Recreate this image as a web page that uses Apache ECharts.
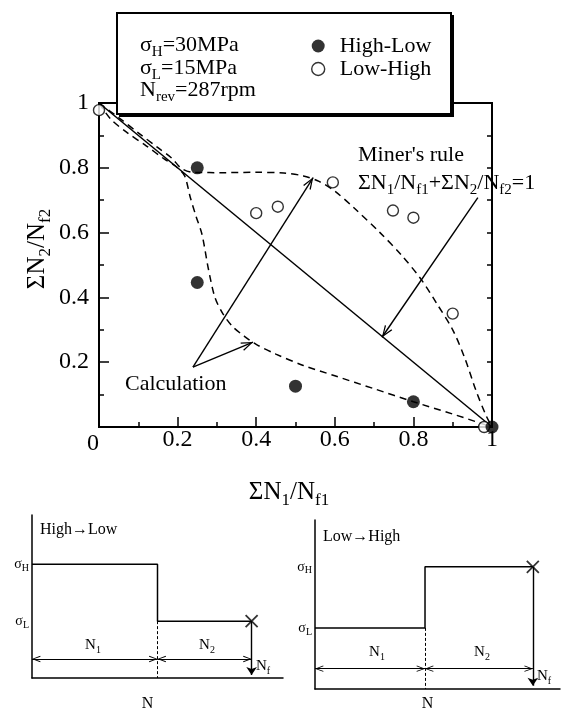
<!DOCTYPE html>
<html>
<head>
<meta charset="utf-8">
<script src="https://cdn.jsdelivr.net/npm/echarts@6/dist/echarts.min.js"></script>
<style>
  html, body { margin: 0; padding: 0; background: #fff; }
  #chart { width: 561px; height: 718px; }
</style>
</head>
<body>
<div id="chart"></div>
<script>
const FONT = '"Liberation Serif", "Times New Roman", serif';

// Cumulative damage fractions from two-step block loading tests
const highLowN1 = [0.25, 0.25, 0.50, 0.80, 1.00];
const highLowN2 = [0.80, 0.446, 0.126, 0.078, 0.0];
const lowHighN1 = [0.00, 0.40, 0.455, 0.595, 0.748, 0.80, 0.90, 0.98];
const lowHighN2 = [0.978, 0.66, 0.68, 0.755, 0.668, 0.646, 0.35, 0.0];

// Miner's linear damage rule: N1/Nf1 + N2/Nf2 = 1
const minerN1 = [0, 1];
const minerN2 = [1, 0];

// Calculated damage curves
const calcLowHighN1 = [0, 0.05, 0.10, 0.15, 0.185, 0.21, 0.24, 0.32, 0.40, 0.47, 0.52, 0.56, 0.60, 0.65, 0.715, 0.77, 0.82, 0.86, 0.90, 0.93, 0.96, 0.985, 1];
const calcLowHighN2 = [1, 0.955, 0.908, 0.862, 0.83, 0.798, 0.786, 0.785, 0.786, 0.784, 0.775, 0.758, 0.728, 0.675, 0.60, 0.53, 0.455, 0.38, 0.30, 0.215, 0.11, 0.035, 0];
const calcHighLowN1 = [0, 0.03, 0.07, 0.12, 0.165, 0.20, 0.218, 0.232, 0.247, 0.262, 0.278, 0.295, 0.315, 0.34, 0.37, 0.40, 0.45, 0.52, 0.60, 0.70, 0.80, 0.90, 1];
const calcHighLowN2 = [1, 0.95, 0.91, 0.868, 0.828, 0.80, 0.775, 0.71, 0.65, 0.595, 0.49, 0.40, 0.35, 0.31, 0.28, 0.255, 0.225, 0.19, 0.158, 0.118, 0.078, 0.04, 0];

// Annotation arrows (tail, head) in damage-fraction units
const minerArrow = [[0.964, 0.708], [0.72, 0.277]];
const calcArrowTail = [0.239, 0.185];
const calcArrowHeads = [[0.545, 0.77], [0.392, 0.262]];

// Loading schematics: stress amplitude (MPa) against cycles (in units of N1)
const sigmaH = 30;
const sigmaL = 15;
const hlCycles = [0, 1, 1, 1.75];
const hlStress = [sigmaH, sigmaH, sigmaL, sigmaL];
const hlFailure = 1.75;
const lhCycles = [0, 1, 1, 1.98];
const lhStress = [sigmaL, sigmaL, sigmaH, sigmaH];
const lhFailure = 1.98;
const dimLevel = 5;

const zip = (a, b) => a.map((v, i) => [v, b[i]]);

const BLACK = '#000';
// open arrowhead in a square box, tip at the centre
const chevron = 'path://M0,0M24,0M12,12L16.5,24L15.2,24.4L12,15.2L8.8,24.4L7.5,24Z';
const crossMark = 'path://M0,0L10,10M10,0L0,10';

const subRich = (sub) => ({
  s: { fontSize: sub, fontFamily: FONT, lineHeight: sub, verticalAlign: 'bottom', color: BLACK }
});

const chart = echarts.init(document.getElementById('chart'), null, { renderer: 'canvas' });

const tickFont = { color: BLACK, fontFamily: FONT, fontSize: 24 };

const option = {
  animation: false,
  backgroundColor: '#fff',
  textStyle: { fontFamily: FONT, color: BLACK },
  legend: {
    z: 100,
    orient: 'vertical',
    left: 306,
    top: 30,
    itemWidth: 13,
    itemHeight: 13,
    itemGap: 1,
    data: [
      { name: 'High-Low', icon: 'circle', itemStyle: { color: BLACK } },
      { name: 'Low-High', icon: 'circle', itemStyle: { color: '#fff', borderColor: BLACK, borderWidth: 1.4 } }
    ],
    textStyle: { fontFamily: FONT, fontSize: 22, color: BLACK, lineHeight: 22, padding: [0, 0, 0, 10] },
    selectedMode: false
  },
  grid: [
    { left: 99, top: 103, width: 393, height: 324, show: true, borderColor: BLACK, borderWidth: 2, backgroundColor: 'transparent' },
    { left: 32, top: 515, width: 251, height: 163 },
    { left: 315, top: 520, width: 245, height: 169 }
  ],
  xAxis: [
    {
      gridIndex: 0, type: 'value', min: 0, max: 1, interval: 0.2,
      axisLine: { show: true, lineStyle: { color: BLACK, width: 2 } },
      axisTick: { inside: true, length: 10, lineStyle: { color: BLACK, width: 1.5 } },
      minorTick: { show: true, splitNumber: 2, length: 5, lineStyle: { color: BLACK, width: 1.5 } },
      splitLine: { show: false },
      axisLabel: Object.assign({}, tickFont, {
        margin: 1,
        formatter: v => (v === 0 ? '{z|0}' : String(v)),
        rich: { z: { fontSize: 24, fontFamily: FONT, color: BLACK, padding: [4, 12, 0, 0] } }
      })
    },
    {
      gridIndex: 1, type: 'value', min: 0, max: 2.0,
      axisLine: { show: true, onZero: false, lineStyle: { color: BLACK, width: 1.5 } },
      axisTick: { show: false }, axisLabel: { show: false }, splitLine: { show: false },
      name: 'N', nameLocation: 'middle', nameGap: 18,
      nameTextStyle: { fontFamily: FONT, fontSize: 16, color: BLACK, padding: [0, 20, 0, 0] }
    },
    {
      gridIndex: 2, type: 'value', min: 0, max: 2.227,
      axisLine: { show: true, onZero: false, lineStyle: { color: BLACK, width: 1.5 } },
      axisTick: { show: false }, axisLabel: { show: false }, splitLine: { show: false },
      name: 'N', nameLocation: 'middle', nameGap: 7,
      nameTextStyle: { fontFamily: FONT, fontSize: 16, color: BLACK, padding: [0, 20, 0, 0] }
    }
  ],
  yAxis: [
    {
      gridIndex: 0, type: 'value', min: 0, max: 1, interval: 0.2,
      axisLine: { show: true, lineStyle: { color: BLACK, width: 2 } },
      axisTick: { inside: true, length: 10, lineStyle: { color: BLACK, width: 1.5 } },
      minorTick: { show: true, splitNumber: 2, length: 5, lineStyle: { color: BLACK, width: 1.5 } },
      splitLine: { show: false },
      axisLabel: Object.assign({}, tickFont, { margin: 10, showMinLabel: false })
    },
    {
      gridIndex: 0, type: 'value', min: 0, max: 1, interval: 0.1, position: 'right',
      axisLine: { show: true, lineStyle: { color: BLACK, width: 2 } },
      axisTick: { inside: true, length: 5, lineStyle: { color: BLACK, width: 1.5 } },
      axisLabel: { show: false }, splitLine: { show: false }
    },
    {
      gridIndex: 1, type: 'value', min: 0, max: 43,
      axisLine: { show: true, onZero: false, lineStyle: { color: BLACK, width: 1.5 } },
      axisTick: { show: false }, splitLine: { show: false },
      axisLabel: {
        customValues: [sigmaL, sigmaH], margin: 3,
        formatter: v => (v === sigmaH ? 'σ{s|H}' : 'σ{s|L}'),
        fontFamily: FONT, fontSize: 14, color: BLACK, lineHeight: 18,
        rich: subRich(10)
      }
    },
    {
      gridIndex: 2, type: 'value', min: 0, max: 41.5,
      axisLine: { show: true, onZero: false, lineStyle: { color: BLACK, width: 1.5 } },
      axisTick: { show: false }, splitLine: { show: false },
      axisLabel: {
        customValues: [sigmaL, sigmaH], margin: 3,
        formatter: v => (v === sigmaH ? 'σ{s|H}' : 'σ{s|L}'),
        fontFamily: FONT, fontSize: 14, color: BLACK, lineHeight: 18,
        rich: subRich(10)
      }
    }
  ],
  series: [
    {
      name: "Miner's rule", type: 'line', xAxisIndex: 0, yAxisIndex: 0,
      data: zip(minerN1, minerN2), symbol: 'none',
      lineStyle: { color: BLACK, width: 1.5 }, z: 2
    },
    {
      name: 'Calculation (Low-High)', type: 'line', xAxisIndex: 0, yAxisIndex: 0,
      data: zip(calcLowHighN1, calcLowHighN2), symbol: 'none', smooth: 0.3,
      lineStyle: { color: BLACK, width: 1.5, type: [7, 5] }, z: 2
    },
    {
      name: 'Calculation (High-Low)', type: 'line', xAxisIndex: 0, yAxisIndex: 0,
      data: zip(calcHighLowN1, calcHighLowN2), symbol: 'none', smooth: 0.3,
      lineStyle: { color: BLACK, width: 1.5, type: [7, 5] }, z: 2
    },
    {
      name: 'Annotation arrows', type: 'lines', coordinateSystem: 'cartesian2d',
      xAxisIndex: 0, yAxisIndex: 0, silent: true,
      symbol: ['none', chevron], symbolSize: 24,
      lineStyle: { color: BLACK, width: 1.4, opacity: 1, curveness: 0 },
      data: [
        { coords: minerArrow },
        { coords: [calcArrowTail, calcArrowHeads[0]] },
        { coords: [calcArrowTail, calcArrowHeads[1]] }
      ], z: 3
    },
    {
      name: 'High-Low', type: 'scatter', xAxisIndex: 0, yAxisIndex: 0,
      data: zip(highLowN1, highLowN2), symbol: 'circle', symbolSize: 13, clip: false,
      itemStyle: { color: BLACK }, z: 6
    },
    {
      name: 'Low-High', type: 'scatter', xAxisIndex: 0, yAxisIndex: 0,
      data: zip(lowHighN1, lowHighN2), symbol: 'circle', symbolSize: 11, clip: false,
      itemStyle: { color: '#fff', borderColor: BLACK, borderWidth: 1.4 }, z: 5
    },

    // High -> Low schematic
    {
      type: 'line', xAxisIndex: 1, yAxisIndex: 2, data: zip(hlCycles, hlStress),
      symbol: 'none', lineStyle: { color: BLACK, width: 1.5 }, silent: true
    },
    {
      type: 'lines', coordinateSystem: 'cartesian2d', xAxisIndex: 1, yAxisIndex: 2, silent: true,
      symbol: 'none', lineStyle: { color: BLACK, width: 1, type: [3, 2], opacity: 1 },
      data: [{ coords: [[hlCycles[1], sigmaL], [hlCycles[1], 0]] }]
    },
    {
      type: 'lines', coordinateSystem: 'cartesian2d', xAxisIndex: 1, yAxisIndex: 2, silent: true,
      symbol: [chevron, chevron], symbolSize: 17,
      lineStyle: { color: BLACK, width: 1.2, opacity: 1 },
      data: [
        { coords: [[0, dimLevel], [hlCycles[1], dimLevel]] },
        { coords: [[hlCycles[1], dimLevel], [hlFailure, dimLevel]] }
      ]
    },
    {
      type: 'lines', coordinateSystem: 'cartesian2d', xAxisIndex: 1, yAxisIndex: 2, silent: true,
      symbol: ['none', 'arrow'], symbolSize: 8,
      lineStyle: { color: BLACK, width: 1.4, opacity: 1 },
      data: [{ coords: [[hlFailure, sigmaL], [hlFailure, 0.8]] }]
    },
    {
      type: 'scatter', xAxisIndex: 1, yAxisIndex: 2, data: [[hlFailure, sigmaL]], silent: true,
      symbol: crossMark, symbolSize: 12, clip: false,
      itemStyle: { color: 'none', borderColor: BLACK, borderWidth: 1.8 }
    },

    // Low -> High schematic
    {
      type: 'line', xAxisIndex: 2, yAxisIndex: 3, data: zip(lhCycles, lhStress),
      symbol: 'none', lineStyle: { color: BLACK, width: 1.5 }, silent: true
    },
    {
      type: 'lines', coordinateSystem: 'cartesian2d', xAxisIndex: 2, yAxisIndex: 3, silent: true,
      symbol: 'none', lineStyle: { color: BLACK, width: 1, type: [3, 2], opacity: 1 },
      data: [{ coords: [[lhCycles[1], sigmaL], [lhCycles[1], 0]] }]
    },
    {
      type: 'lines', coordinateSystem: 'cartesian2d', xAxisIndex: 2, yAxisIndex: 3, silent: true,
      symbol: [chevron, chevron], symbolSize: 17,
      lineStyle: { color: BLACK, width: 1.2, opacity: 1 },
      data: [
        { coords: [[0, dimLevel], [lhCycles[1], dimLevel]] },
        { coords: [[lhCycles[1], dimLevel], [lhFailure, dimLevel]] }
      ]
    },
    {
      type: 'lines', coordinateSystem: 'cartesian2d', xAxisIndex: 2, yAxisIndex: 3, silent: true,
      symbol: ['none', 'arrow'], symbolSize: 8,
      lineStyle: { color: BLACK, width: 1.4, opacity: 1 },
      data: [{ coords: [[lhFailure, sigmaH], [lhFailure, 0.8]] }]
    },
    {
      type: 'scatter', xAxisIndex: 2, yAxisIndex: 3, data: [[lhFailure, sigmaH]], silent: true,
      symbol: crossMark, symbolSize: 12, clip: false,
      itemStyle: { color: 'none', borderColor: BLACK, borderWidth: 1.8 }
    }
  ],
  graphic: [
    // parameter box with drop shadow
    { type: 'rect', z: 50, shape: { x: 117, y: 13, width: 334, height: 101 },
      style: { fill: '#fff', stroke: BLACK, lineWidth: 2 } },
    { type: 'line', z: 51, shape: { x1: 119, y1: 115, x2: 453, y2: 115 }, style: { stroke: BLACK, lineWidth: 4 } },
    { type: 'line', z: 51, shape: { x1: 452, y1: 15, x2: 452, y2: 117 }, style: { stroke: BLACK, lineWidth: 4 } },
    { type: 'text', z: 60, x: 140, y: 45,
      style: { text: 'σ{s|H}=30MPa', fontFamily: FONT, fontSize: 22, lineHeight: 30, fill: BLACK, verticalAlign: 'middle', rich: subRich(15) } },
    { type: 'text', z: 60, x: 140, y: 68,
      style: { text: 'σ{s|L}=15MPa', fontFamily: FONT, fontSize: 22, lineHeight: 30, fill: BLACK, verticalAlign: 'middle', rich: subRich(15) } },
    { type: 'text', z: 60, x: 140, y: 90,
      style: { text: 'N{s|rev}=287rpm', fontFamily: FONT, fontSize: 22, lineHeight: 30, fill: BLACK, verticalAlign: 'middle', rich: subRich(15) } },

    // axis titles
    { type: 'text', z: 60, x: 37, y: 249, rotation: Math.PI / 2,
      style: { text: 'ΣN{s|2}/N{s|f2}', fontFamily: FONT, fontSize: 25, lineHeight: 34, fill: BLACK, align: 'center', verticalAlign: 'middle', rich: subRich(17) } },
    { type: 'text', z: 60, x: 289, y: 492,
      style: { text: 'ΣN{s|1}/N{s|f1}', fontFamily: FONT, fontSize: 25, lineHeight: 34, fill: BLACK, align: 'center', verticalAlign: 'middle', rich: subRich(17) } },

    // annotations
    { type: 'text', z: 60, x: 358, y: 155,
      style: { text: "Miner's rule", fontFamily: FONT, fontSize: 22, fill: BLACK, verticalAlign: 'middle' } },
    { type: 'text', z: 60, x: 358, y: 183,
      style: { text: 'ΣN{s|1}/N{s|f1}+ΣN{s|2}/N{s|f2}=1', fontFamily: FONT, fontSize: 22, lineHeight: 30, fill: BLACK, verticalAlign: 'middle', rich: subRich(15) } },
    { type: 'text', z: 60, x: 125, y: 384,
      style: { text: 'Calculation', fontFamily: FONT, fontSize: 22, fill: BLACK, verticalAlign: 'middle' } },

    // schematic labels
    { type: 'text', z: 60, x: 40, y: 530,
      style: { text: 'High→Low', fontFamily: FONT, fontSize: 16, fill: BLACK, verticalAlign: 'middle' } },
    { type: 'text', z: 60, x: 323, y: 537,
      style: { text: 'Low→High', fontFamily: FONT, fontSize: 16, fill: BLACK, verticalAlign: 'middle' } },
    { type: 'text', z: 60, x: 93, y: 645,
      style: { text: 'N{s|1}', fontFamily: FONT, fontSize: 15, lineHeight: 20, fill: BLACK, align: 'center', verticalAlign: 'middle', rich: subRich(10) } },
    { type: 'text', z: 60, x: 207, y: 645,
      style: { text: 'N{s|2}', fontFamily: FONT, fontSize: 15, lineHeight: 20, fill: BLACK, align: 'center', verticalAlign: 'middle', rich: subRich(10) } },
    { type: 'text', z: 60, x: 256, y: 666,
      style: { text: 'N{s|f}', fontFamily: FONT, fontSize: 15, lineHeight: 20, fill: BLACK, verticalAlign: 'middle', rich: subRich(10) } },
    { type: 'text', z: 60, x: 377, y: 652,
      style: { text: 'N{s|1}', fontFamily: FONT, fontSize: 15, lineHeight: 20, fill: BLACK, align: 'center', verticalAlign: 'middle', rich: subRich(10) } },
    { type: 'text', z: 60, x: 482, y: 652,
      style: { text: 'N{s|2}', fontFamily: FONT, fontSize: 15, lineHeight: 20, fill: BLACK, align: 'center', verticalAlign: 'middle', rich: subRich(10) } },
    { type: 'text', z: 60, x: 537, y: 676,
      style: { text: 'N{s|f}', fontFamily: FONT, fontSize: 15, lineHeight: 20, fill: BLACK, verticalAlign: 'middle', rich: subRich(10) } }
  ]
};

chart.setOption(option);
</script>
</body>
</html>
